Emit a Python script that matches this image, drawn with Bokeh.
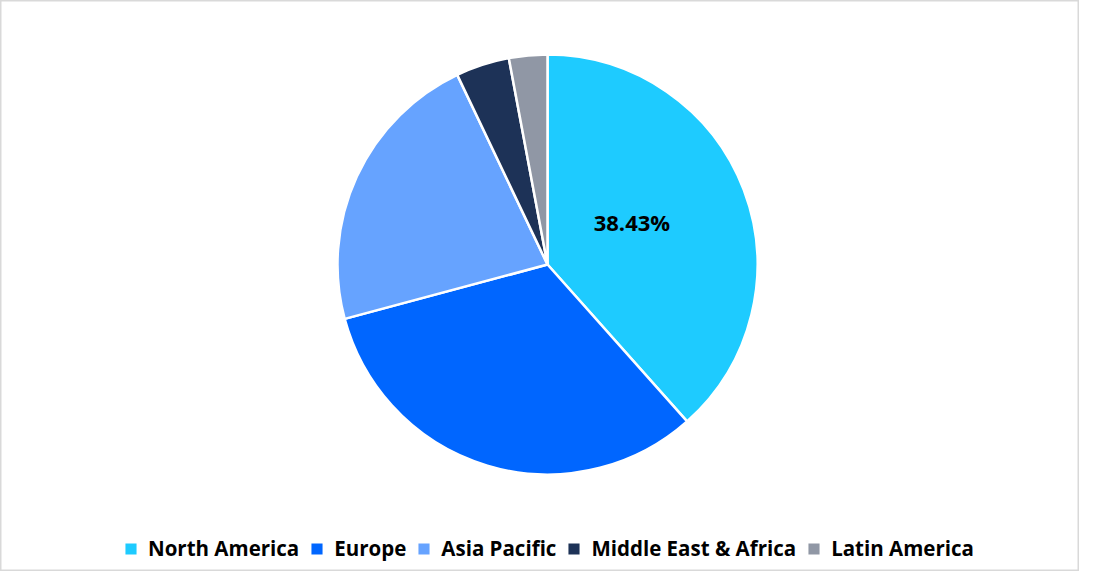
import math
from bokeh.plotting import figure
from bokeh.models import ColumnDataSource, Legend, LegendItem, Range1d
from bokeh.core.properties import value
from bokeh.embed import file_html
from bokeh.resources import INLINE

regions = ["North America", "Europe", "Asia Pacific", "Middle East & Africa", "Latin America"]
shares = [38.43, 32.40, 22.10, 4.12, 2.95]
colors = ["#1ECBFF", "#0066FF", "#66A3FF", "#1D3257", "#9097A5"]
labels = ["38.43%", "", "", "", ""]

W, H = 1079, 571
CX, CY, R = 547, 307, 210

total = sum(shares)
starts, ends, lx, ly = [], [], [], []
cum = 0.0
for s in shares:
    a0 = math.pi / 2 - 2 * math.pi * (cum + s) / total
    a1 = math.pi / 2 - 2 * math.pi * cum / total
    starts.append(a0)
    ends.append(a1)
    mid = (a0 + a1) / 2
    lx.append(CX + 0.43 * R * math.cos(mid))
    ly.append(CY + 0.43 * R * math.sin(mid) + 10)
    cum += s

src = ColumnDataSource(dict(region=regions, share=shares, color=colors,
                            start=starts, end=ends, lx=lx, ly=ly, label=labels))

p = figure(width=W, height=H, output_backend="svg", toolbar_location=None,
           x_range=Range1d(0, W), y_range=Range1d(0, H), min_border=0)
p.axis.visible = False
p.grid.visible = False
p.outline_line_color = "#D9D9D9"
p.outline_line_width = 2
p.background_fill_color = "white"
p.border_fill_color = "white"

r = p.wedge(x=CX, y=CY, radius=R, start_angle="start", end_angle="end",
            fill_color="color", line_color="white", line_width=2.5, source=src)

p.text(x="lx", y="ly", text="label", source=src, text_align="center",
       text_baseline="middle", text_font=value("Open Sans"), text_font_style="bold",
       text_font_size="22px", text_color="black")

items = [LegendItem(label=reg, renderers=[r], index=i) for i, reg in enumerate(regions)]
legend = Legend(items=items, orientation="horizontal", location=(122, 9),
                label_text_font="Open Sans", label_text_font_style="bold",
                label_text_font_size="20.5px", label_text_color="black",
                glyph_width=17, glyph_height=17, label_standoff=9, spacing=9,
                padding=0, margin=0, border_line_alpha=0, background_fill_alpha=0,
                label_height=22)
p.add_layout(legend, "center")

open("out.html", "w").write(file_html(p, INLINE))
